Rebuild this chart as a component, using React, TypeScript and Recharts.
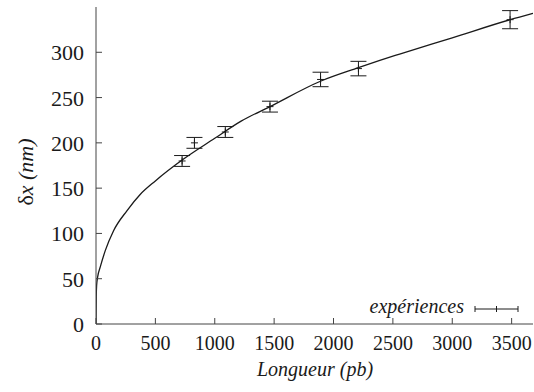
import React from "react";
import {
  ComposedChart,
  Line,
  Scatter,
  ErrorBar,
  XAxis,
  YAxis,
  Customized,
} from "recharts";

// fitted curve (length in bp, dx in nm)
const curveL = [0, 2, 5, 14, 36, 78, 148, 260, 372, 500, 725, 1000, 1222, 1465, 1890, 2210, 2390, 2557, 3000, 3487, 3680];
const curveV = [0, 30, 42, 52, 63, 81, 103, 125, 143, 158, 181, 205, 224, 240, 268, 283, 291, 298, 316, 336, 343];

// experimental points with error bars
const expL = [725, 829, 1089, 1465, 1891, 2210, 3487];
const expV = [180, 200, 212, 240, 270, 282, 336];
const expErr = [6, 6, 6, 6, 8, 8, 10];

const xTicks = [0, 500, 1000, 1500, 2000, 2500, 3000, 3500];
const yTicks = [0, 50, 100, 150, 200, 250, 300];

const curveData = curveL.map((L, i) => ({ L, v: curveV[i] }));
const expData = expL.map((L, i) => ({ L, v: expV[i], err: expErr[i] }));

const FONT = "Liberation Serif";
const AXIS = "#444";
const INK = "#1a1a1a";
const TICK = 6;

function BottomTick({ x, y, payload }: any) {
  return (
    <g>
      <line x1={x} y1={y} x2={x} y2={y - TICK} stroke={AXIS} />
      <text x={x} y={y + 26} textAnchor="middle" fill={INK} style={{ fontFamily: FONT, fontSize: 20 }}>
        {payload.value}
      </text>
    </g>
  );
}

function TopTick({ x, y }: any) {
  return <line x1={x} y1={y} x2={x} y2={y + TICK} stroke={AXIS} />;
}

function LeftTick({ x, y, payload }: any) {
  return (
    <g>
      <line x1={x} y1={y} x2={x + TICK} y2={y} stroke={AXIS} />
      <text x={x - 12} y={y + 8} textAnchor="end" fill={INK} style={{ fontFamily: FONT, fontSize: 22 }}>
        {payload.value}
      </text>
    </g>
  );
}

function RightTick({ x, y }: any) {
  return <line x1={x} y1={y} x2={x - TICK} y2={y} stroke={AXIS} />;
}

function PlusPoint({ cx, cy }: any) {
  if (cx == null || cy == null) return null;
  return (
    <g stroke={INK} strokeWidth={1}>
      <line x1={cx - 3.5} y1={cy} x2={cx + 3.5} y2={cy} />
      <line x1={cx} y1={cy - 3.5} x2={cx} y2={cy + 3.5} />
    </g>
  );
}

function Extras() {
  return (
    <g>
      <text x={33} y={172} transform="rotate(-90, 33, 172)" textAnchor="middle" fill={INK} style={{ fontFamily: FONT, fontSize: 22 }}>
        δ<tspan style={{ fontStyle: "italic" }}>x (nm)</tspan>
      </text>
      <text x={315} y={376} textAnchor="middle" fill={INK} style={{ fontFamily: FONT, fontSize: 20, fontStyle: "italic" }}>
        Longueur (pb)
      </text>
      <text x={464} y={313} textAnchor="end" fill={INK} style={{ fontFamily: FONT, fontSize: 20, fontStyle: "italic" }}>
        expériences
      </text>
      <g stroke={INK} strokeWidth={1}>
        <line x1={475} y1={309} x2={518} y2={309} />
        <line x1={475} y1={306} x2={475} y2={312} />
        <line x1={518} y1={306} x2={518} y2={312} />
        <line x1={496.5} y1={306} x2={496.5} y2={312} />
      </g>
    </g>
  );
}

export default function App() {
  return (
    <div style={{ position: "absolute", left: 0, top: 0, width: 534, height: 392, background: "#fff" }}>
      <ComposedChart width={534} height={392} margin={{ top: 7, right: 1, bottom: 18, left: 0 }}>
        <XAxis
          xAxisId="bottom"
          dataKey="L"
          type="number"
          domain={[0, 3680]}
          ticks={xTicks}
          interval={0}
          height={50}
          tickSize={0}
          tickMargin={0}
          tickLine={false}
          axisLine={{ stroke: AXIS }}
          tick={BottomTick}
          allowDataOverflow
        />
        <XAxis
          xAxisId="top"
          orientation="top"
          dataKey="L"
          type="number"
          domain={[0, 3680]}
          ticks={xTicks}
          interval={0}
          height={0}
          tickSize={0}
          tickMargin={0}
          tickLine={false}
          axisLine={{ stroke: AXIS }}
          tick={TopTick}
          allowDataOverflow
        />
        <YAxis
          yAxisId="left"
          dataKey="v"
          type="number"
          domain={[0, 350]}
          ticks={yTicks}
          interval={0}
          width={96}
          tickSize={0}
          tickMargin={0}
          tickLine={false}
          axisLine={{ stroke: AXIS }}
          tick={LeftTick}
          allowDataOverflow
        />
        <YAxis
          yAxisId="right"
          orientation="right"
          dataKey="v"
          type="number"
          domain={[0, 350]}
          ticks={yTicks}
          interval={0}
          width={0}
          tickSize={0}
          tickMargin={0}
          tickLine={false}
          axisLine={{ stroke: AXIS }}
          tick={RightTick}
          allowDataOverflow
        />
        <Line
          xAxisId="bottom"
          yAxisId="left"
          data={curveData}
          dataKey="v"
          type="monotone"
          stroke={INK}
          strokeWidth={1.3}
          dot={false}
          activeDot={false}
          isAnimationActive={false}
        />
        <Scatter
          xAxisId="top"
          yAxisId="right"
          data={expData}
          dataKey="v"
          shape={PlusPoint}
          isAnimationActive={false}
        >
          <ErrorBar dataKey="err" direction="y" width={8} stroke={INK} strokeWidth={1} />
        </Scatter>
        <Customized component={Extras} />
      </ComposedChart>
    </div>
  );
}
